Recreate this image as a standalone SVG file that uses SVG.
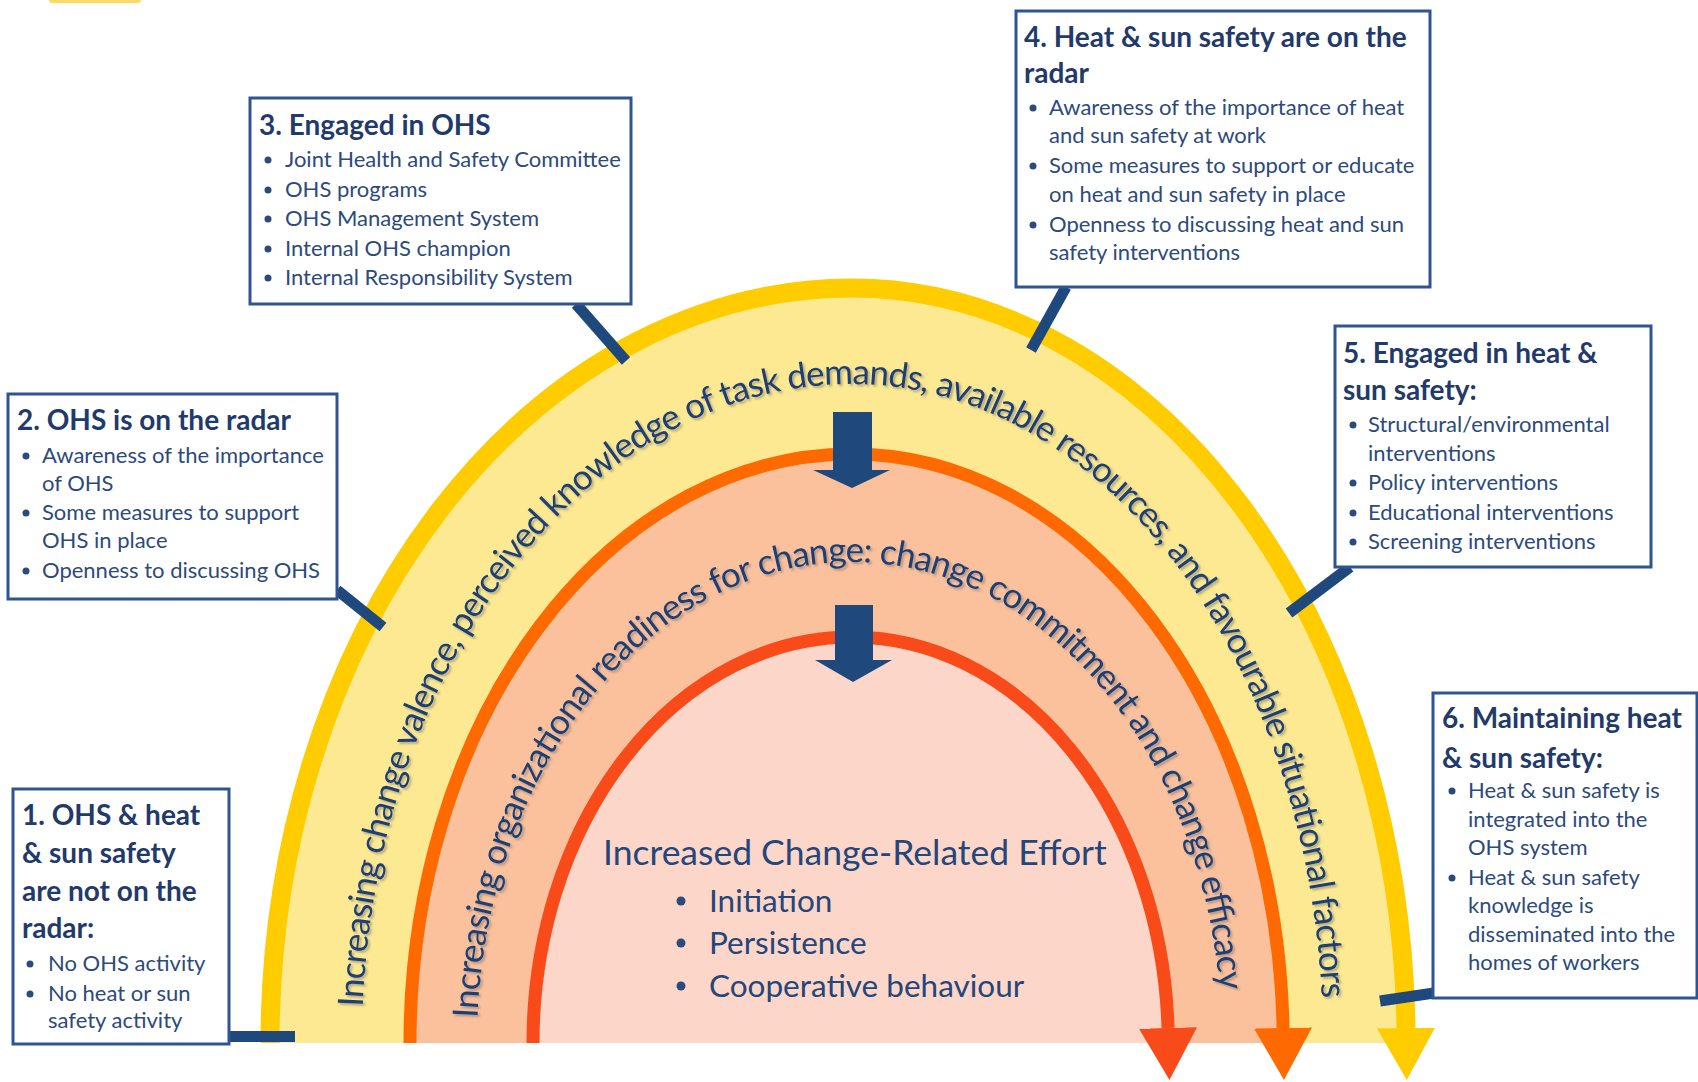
<svg xmlns="http://www.w3.org/2000/svg" width="1698" height="1082" viewBox="0 0 1698 1082">
  <defs>
    <style>
      .box { fill: #ffffff; stroke: #2E5591; stroke-width: 3; }
      .ttl { font-family: Lato, "Liberation Sans", sans-serif; font-weight: 700; font-size: 28px; fill: #1F3A6B; }
      .bd { font-family: Lato, "Liberation Sans", sans-serif; font-size: 22px; fill: #2C4A7C; }
      .dot { fill: #2C4A7C; }
      .conn { stroke: #1F497D; stroke-width: 11; fill: none; }
      .band { font-family: Lato, "Liberation Sans", sans-serif; font-size: 35px; fill: #1F3F73; filter: url(#shadow); }
      .core { font-family: Lato, "Liberation Sans", sans-serif; fill: #24467A; }
      .push { fill: #1F497D; }
    </style>
    <filter id="shadow" x="-5%" y="-5%" width="110%" height="110%">
      <feDropShadow dx="2" dy="2" stdDeviation="1.2" flood-color="#777777" flood-opacity="0.55"/>
    </filter>
    <marker id="head-yellow" viewBox="0 0 52 58" markerUnits="userSpaceOnUse" markerWidth="52" markerHeight="58" refX="0" refY="29" orient="auto">
      <path d="M0,0 L52,29 L0,58 Z" fill="#FFCC00"/>
    </marker>
    <marker id="head-orange" viewBox="0 0 52 58" markerUnits="userSpaceOnUse" markerWidth="52" markerHeight="58" refX="0" refY="29" orient="auto">
      <path d="M0,0 L52,29 L0,58 Z" fill="#FF6A00"/>
    </marker>
    <marker id="head-red" viewBox="0 0 52 58" markerUnits="userSpaceOnUse" markerWidth="52" markerHeight="58" refX="0" refY="29" orient="auto">
      <path d="M0,0 L52,29 L0,58 Z" fill="#F94A1A"/>
    </marker>
    <!-- baselines for the curved band labels -->
    <path id="p-outer" d="M 362 1043 A 490 659 0 0 1 852 384 A 471 659 0 0 1 1323 1043"/>
    <path id="p-middle" d="M 477 1043 A 375 481 0 0 1 852 562 A 370 481 0 0 1 1222 1043"/>
  </defs>

  <rect x="0" y="0" width="1698" height="1082" fill="#ffffff"/>
  <rect x="49" y="-4" width="92" height="7" rx="3" fill="#FFD966"/>

  <!-- nested arches -->
  <g id="arches">
    <path d="M 270 1043 A 582 755 0 0 1 852 288 A 554 755 0 0 1 1406 1043 Z" fill="#FDE992"/>
    <path d="M 270 1043 A 582 755 0 0 1 852 288 A 554 755 0 0 1 1406 1028" fill="none" stroke="#FFCC00" stroke-width="19" marker-end="url(#head-yellow)"/>
    <path d="M 410 1043 A 442 589 0 0 1 852 454 A 431 589 0 0 1 1283 1043 Z" fill="#FBC09C"/>
    <path d="M 410 1043 A 442 589 0 0 1 852 454 A 431 589 0 0 1 1283 1028" fill="none" stroke="#FF6A00" stroke-width="13" marker-end="url(#head-orange)"/>
    <path d="M 533 1043 A 319 406 0 0 1 852 637 A 316 406 0 0 1 1168 1043 Z" fill="#FCD6C8"/>
    <path d="M 533 1043 A 319 406 0 0 1 852 637 A 316 406 0 0 1 1168 1028" fill="none" stroke="#F94A1A" stroke-width="13" marker-end="url(#head-red)"/>
  </g>

  <g id="band-labels">
    <text class="band"><textPath href="#p-outer" startOffset="36" textLength="1720" lengthAdjust="spacing">Increasing change valence, perceived knowledge of task demands, available resources, and favourable situational factors</textPath></text>
    <text class="band"><textPath href="#p-middle" startOffset="25" textLength="1268" lengthAdjust="spacing">Increasing organizational readiness for change: change commitment and change efficacy</textPath></text>
  </g>

  <g id="flow-arrows">
    <path class="push" d="M833,412 H872 V470 H890 L852,488 L813,470 H833 Z"/>
    <path class="push" d="M835,605 H873 V660 H892 L853,682 L815,660 H835 Z"/>
  </g>

  <g id="effort">
    <text class="core" x="603" y="865" font-size="35.5">Increased Change-Related Effort</text>
    <circle class="dot" cx="681" cy="901" r="4.5"/>
    <circle class="dot" cx="681" cy="943" r="4.5"/>
    <circle class="dot" cx="681" cy="986" r="4.5"/>
    <g class="core" font-size="31.5">
      <text x="709" y="912">Initiation</text>
      <text x="709" y="954">Persistence</text>
      <text x="709" y="997">Cooperative behaviour</text>
    </g>
  </g>

  <!-- callout connectors -->
  <g id="connectors">
    <line class="conn" x1="576" y1="304" x2="626" y2="361"/>
    <line class="conn" x1="1066" y1="287" x2="1031" y2="350"/>
    <line class="conn" x1="337" y1="590" x2="383" y2="627"/>
    <line class="conn" x1="1350" y1="567" x2="1289" y2="613"/>
    <line class="conn" x1="229" y1="1036.5" x2="295" y2="1036.5" stroke-width="15"/>
    <line class="conn" x1="1380" y1="1001" x2="1434" y2="993"/>
  </g>

  <g id="stage-1">
    <rect class="box" x="13" y="789" width="216" height="255"/>
    <text class="ttl" x="22" y="825">1. OHS &amp; heat</text>
    <text class="ttl" x="22" y="863">&amp; sun safety</text>
    <text class="ttl" x="22" y="901">are not on the</text>
    <text class="ttl" x="22" y="938">radar:</text>
    <circle class="dot" cx="30" cy="964" r="3.5"/><text class="bd" x="48" y="971">No OHS activity</text>
    <circle class="dot" cx="30" cy="994" r="3.5"/><text class="bd" x="48" y="1001">No heat or sun</text>
    <text class="bd" x="48" y="1028">safety activity</text>
  </g>

  <g id="stage-2">
    <rect class="box" x="8" y="394" width="329" height="205"/>
    <text class="ttl" x="17" y="430">2. OHS is on the radar</text>
    <circle class="dot" cx="26" cy="456" r="3.5"/><text class="bd" x="42" y="463">Awareness of the importance</text>
    <text class="bd" x="42" y="491">of OHS</text>
    <circle class="dot" cx="26" cy="513" r="3.5"/><text class="bd" x="42" y="520">Some measures to support</text>
    <text class="bd" x="42" y="548">OHS in place</text>
    <circle class="dot" cx="26" cy="571" r="3.5"/><text class="bd" x="42" y="578">Openness to discussing OHS</text>
  </g>

  <g id="stage-3">
    <rect class="box" x="250" y="98" width="381" height="206"/>
    <text class="ttl" x="259" y="135">3. Engaged in OHS</text>
    <circle class="dot" cx="268" cy="160" r="3.5"/><text class="bd" x="285" y="167">Joint Health and Safety Committee</text>
    <circle class="dot" cx="268" cy="190" r="3.5"/><text class="bd" x="285" y="197">OHS programs</text>
    <circle class="dot" cx="268" cy="219" r="3.5"/><text class="bd" x="285" y="226">OHS Management System</text>
    <circle class="dot" cx="268" cy="249" r="3.5"/><text class="bd" x="285" y="256">Internal OHS champion</text>
    <circle class="dot" cx="268" cy="278" r="3.5"/><text class="bd" x="285" y="285">Internal Responsibility System</text>
  </g>

  <g id="stage-4">
    <rect class="box" x="1016" y="11" width="414" height="276"/>
    <text class="ttl" x="1024" y="47">4. Heat &amp; sun safety are on the</text>
    <text class="ttl" x="1024" y="83">radar</text>
    <circle class="dot" cx="1033" cy="108" r="3.5"/><text class="bd" x="1049" y="115">Awareness of the importance of heat</text>
    <text class="bd" x="1049" y="143">and sun safety at work</text>
    <circle class="dot" cx="1033" cy="166" r="3.5"/><text class="bd" x="1049" y="173">Some measures to support or educate</text>
    <text class="bd" x="1049" y="202">on heat and sun safety in place</text>
    <circle class="dot" cx="1033" cy="225" r="3.5"/><text class="bd" x="1049" y="232">Openness to discussing heat and sun</text>
    <text class="bd" x="1049" y="260">safety interventions</text>
  </g>

  <g id="stage-5">
    <rect class="box" x="1335" y="326" width="316" height="241"/>
    <text class="ttl" x="1343" y="363">5. Engaged in heat &amp;</text>
    <text class="ttl" x="1343" y="400">sun safety:</text>
    <circle class="dot" cx="1353" cy="425" r="3.5"/><text class="bd" x="1368" y="432">Structural/environmental</text>
    <text class="bd" x="1368" y="461">interventions</text>
    <circle class="dot" cx="1353" cy="483" r="3.5"/><text class="bd" x="1368" y="490">Policy interventions</text>
    <circle class="dot" cx="1353" cy="513" r="3.5"/><text class="bd" x="1368" y="520">Educational interventions</text>
    <circle class="dot" cx="1353" cy="542" r="3.5"/><text class="bd" x="1368" y="549">Screening interventions</text>
  </g>

  <g id="stage-6">
    <rect class="box" x="1433" y="693" width="264" height="305"/>
    <text class="ttl" x="1442" y="728">6. Maintaining heat</text>
    <text class="ttl" x="1442" y="768">&amp; sun safety:</text>
    <circle class="dot" cx="1452" cy="791" r="3.5"/><text class="bd" x="1468" y="798">Heat &amp; sun safety is</text>
    <text class="bd" x="1468" y="827">integrated into the</text>
    <text class="bd" x="1468" y="855">OHS system</text>
    <circle class="dot" cx="1452" cy="878" r="3.5"/><text class="bd" x="1468" y="885">Heat &amp; sun safety</text>
    <text class="bd" x="1468" y="913">knowledge is</text>
    <text class="bd" x="1468" y="942">disseminated into the</text>
    <text class="bd" x="1468" y="970">homes of workers</text>
  </g>
</svg>
